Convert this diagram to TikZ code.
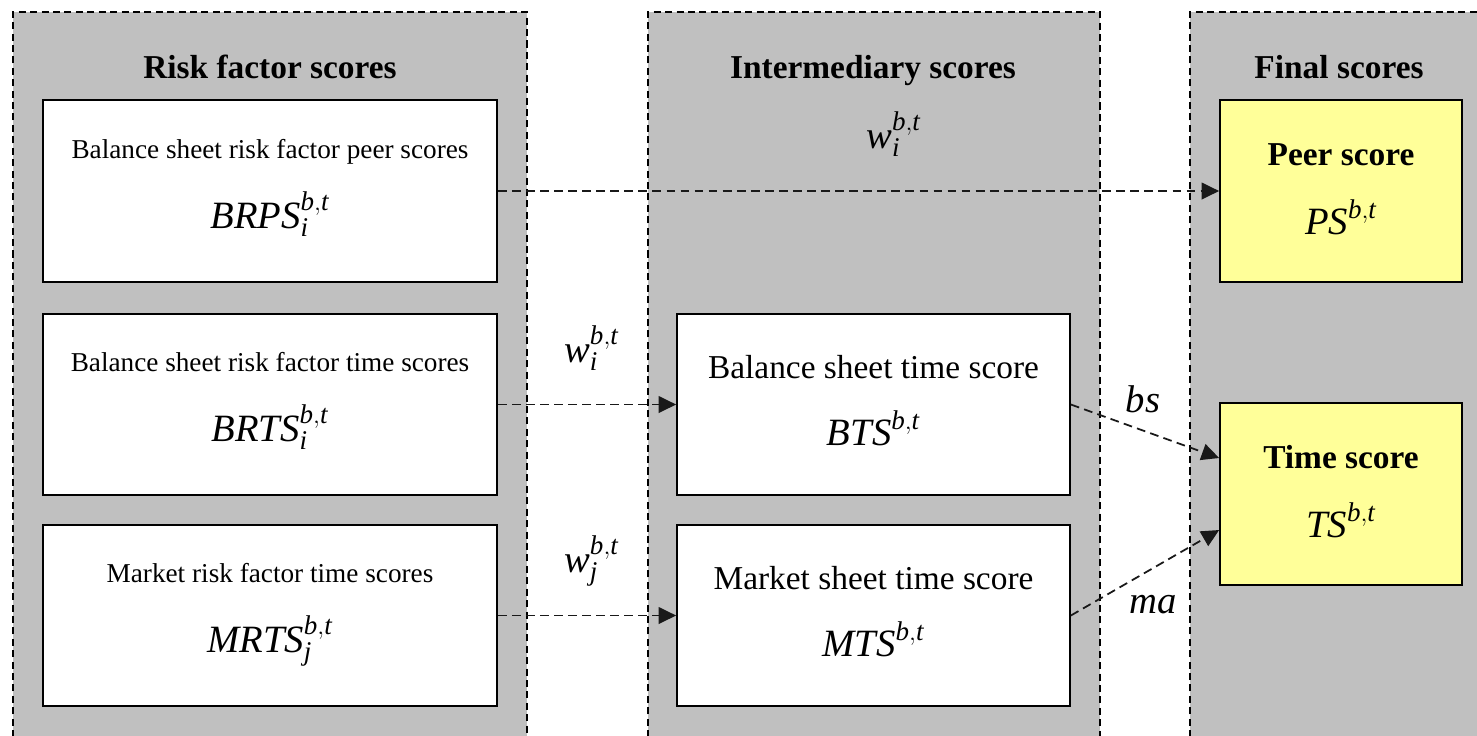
\documentclass[tikz,border=0pt]{standalone}
\usepackage{fontspec}
\setmainfont{Liberation Serif}
\usetikzlibrary{arrows.meta,calc}
\definecolor{panelgray}{RGB}{192,192,192}
\definecolor{scoreyellow}{RGB}{255,255,153}
\begin{document}
\begin{tikzpicture}[x=0.02cm,y=-0.02cm,
 panelborder/.style={draw=black,line width=0.6pt,dash pattern=on 4pt off 2.5pt},
 scorebox/.style={draw=black,line width=1pt,fill=white,inner sep=0pt},
 finalbox/.style={scorebox,fill=scoreyellow},
 leftbox/.style={scorebox,minimum width=9.08cm,minimum height=3.63cm},
 midbox/.style={scorebox,minimum width=7.86cm,minimum height=3.63cm},
 rightbox/.style={finalbox,minimum width=4.84cm,minimum height=3.64cm},
 flow/.style={draw=black!90,line width=1pt,dash pattern=on 5pt off 3pt,-{Triangle[length=10pt,width=9.5pt]}},
 title/.style={font=\fontsize{19}{22}\selectfont\bfseries,anchor=base},
 smalltext/.style={font=\fontsize{15.5}{18}\selectfont,anchor=base},
 midtext/.style={font=\fontsize{19}{22}\selectfont,anchor=base},
 mathlbl/.style={font=\fontsize{22}{26}\selectfont,anchor=base},
 weightlbl/.style={font=\fontsize{22}{26}\selectfont,anchor=base west},
]
\useasboundingbox (0,0) rectangle (1477,735);
\clip (0,0) rectangle (1477,735);
\fill[white] (0,0) rectangle (1477,735);

% panels
\fill[panelgray] (13,12) rectangle (527,760);
\draw[panelborder] (13,760) -- (13,12) -- (527,12) -- (527,760);
\fill[panelgray] (648,12) rectangle (1100,760);
\draw[panelborder] (648,760) -- (648,12) -- (1100,12) -- (1100,760);
\fill[panelgray] (1190,12) rectangle (1500,760);
\draw[panelborder] (1190,760) -- (1190,12) -- (1500,12);

% titles
\node[title] (t1) at (270,78) {Risk factor scores};
\node[title] (t2) at (873,78) {Intermediary scores};
\node[title] (t3) at (1339,78) {Final scores};
\node[weightlbl] (wint) at (860,148) {$\mathit{w}_{\mathit{i}}^{\mathit{b},\mathit{t}}$};

% left boxes
\node[leftbox] (b1) at (270,191) {};
\node[smalltext] (b1t) at (270,158) {Balance sheet risk factor peer scores};
\node[mathlbl] (b1m) at (270,228) {$\mathit{BRPS}_{\mathit{i}}^{\mathit{b},\mathit{t}}$};

\node[leftbox] (b2) at (270,404.5) {};
\node[smalltext] (b2t) at (270,371) {Balance sheet risk factor time scores};
\node[mathlbl] (b2m) at (270,441) {$\mathit{BRTS}_{\mathit{i}}^{\mathit{b},\mathit{t}}$};

\node[leftbox] (b3) at (270,615.5) {};
\node[smalltext] (b3t) at (270,582) {Market risk factor time scores};
\node[mathlbl] (b3m) at (270,652) {$\mathit{MRTS}_{\mathit{j}}^{\mathit{b},\mathit{t}}$};

% middle boxes
\node[midbox] (m1) at (873.5,404.5) {};
\node[midtext] (m1t) at (873.5,378) {Balance sheet time score};
\node[mathlbl] (m1m) at (873.5,445) {$\mathit{BTS}^{\mathit{b},\mathit{t}}$};

\node[midbox] (m2) at (873.5,615.5) {};
\node[midtext] (m2t) at (873.5,589) {Market sheet time score};
\node[mathlbl] (m2m) at (873.5,656) {$\mathit{MTS}^{\mathit{b},\mathit{t}}$};

% final boxes
\node[rightbox] (ps) at (1341,191) {};
\node[title] (pst) at (1341,165) {Peer score};
\node[mathlbl] (psm) at (1341,234) {$\mathit{PS}^{\mathit{b},\mathit{t}}$};

\node[rightbox] (ts) at (1341,494) {};
\node[title] (tst) at (1341,468) {Time score};
\node[mathlbl] (tsm) at (1341,537) {$\mathit{TS}^{\mathit{b},\mathit{t}}$};

% connectors
\coordinate (tsA) at ($(ts.west)+(0,-36)$);
\coordinate (tsB) at ($(ts.west)+(0,36)$);
\draw[flow] (b1.east) -- (ps.west);
\draw[flow] (b2.east) -- (m1.west);
\draw[flow] (b3.east) -- (m2.west);
\draw[flow] (m1.east) -- (tsA);
\draw[flow] (m2.east) -- (tsB);

% weight labels
\node[weightlbl] (wi) at (558,362) {$\mathit{w}_{\mathit{i}}^{\mathit{b},\mathit{t}}$};
\node[weightlbl] (wj) at (558,572) {$\mathit{w}_{\mathit{j}}^{\mathit{b},\mathit{t}}$};
\node[mathlbl] (bs) at (1143,412) {$\mathit{bs}$};
\node[mathlbl] (ma) at (1153,613) {$\mathit{ma}$};
\end{tikzpicture}
\end{document}
